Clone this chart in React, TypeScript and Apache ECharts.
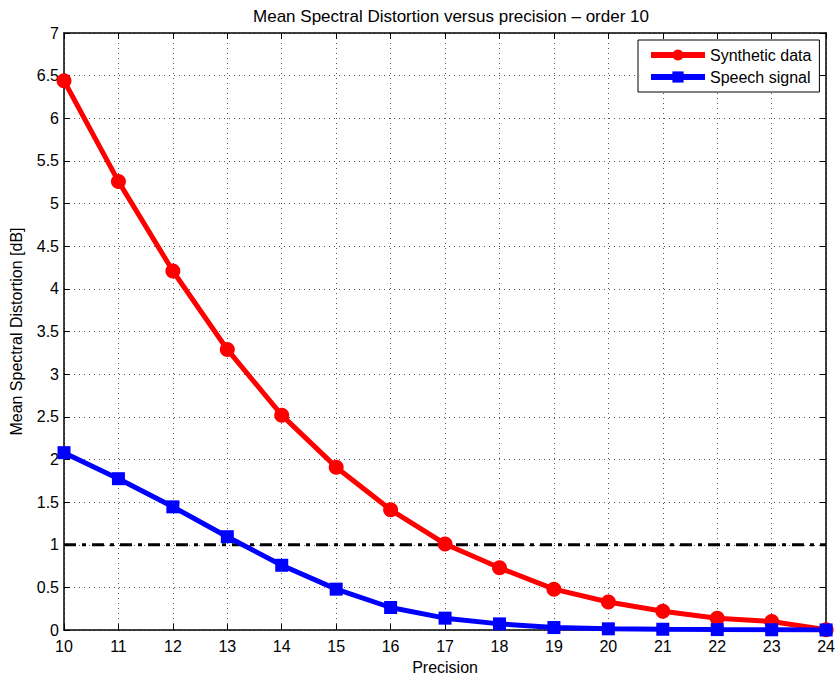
import React, { useEffect, useRef } from "react";
import * as echarts from "echarts";

const precision = [10, 11, 12, 13, 14, 15, 16, 17, 18, 19, 20, 21, 22, 23, 24];
const syntheticData = [6.44, 5.26, 4.21, 3.29, 2.52, 1.91, 1.41, 1.01, 0.73, 0.48, 0.33, 0.22, 0.14, 0.1, 0.005];
const speechSignal = [2.08, 1.775, 1.445, 1.095, 0.76, 0.48, 0.265, 0.14, 0.073, 0.03, 0.015, 0.01, 0.006, 0.004, 0.002];
const thresholdX = [10, 24];
const thresholdY = [1, 1];
const seriesNames = ["Synthetic data", "Speech signal"];
const titleText = "Mean Spectral Distortion versus precision \u2013 order 10";
const xName = "Precision";
const yName = "Mean Spectral Distortion [dB]";

const FONT = "'Liberation Sans', Arial, Helvetica, sans-serif";

export default function App() {
  const ref = useRef<HTMLDivElement>(null);
  useEffect(() => {
    if (!ref.current) return;
    const chart = echarts.init(ref.current, undefined, { renderer: "svg" });
    const gridLine = { show: true, lineStyle: { color: "#555", width: 1, type: [1, 4] as any } };
    const tick = { show: true, inside: true, length: 6, lineStyle: { color: "#000", width: 1 } };
    const axisLine = { show: true, onZero: false, lineStyle: { color: "#000", width: 1.5 } };
    chart.setOption({
      animation: false,
      backgroundColor: "#fff",
      textStyle: { fontFamily: FONT },
      title: {
        text: titleText,
        left: 446,
        textAlign: "center",
        top: 3,
        textStyle: { fontSize: 17, fontWeight: "normal", color: "#000", fontFamily: FONT },
      },
      legend: {
        data: seriesNames,
        orient: "vertical",
        left: 638,
        top: 40,
        padding: [7, 8, 7, 10],
        itemGap: 6,
        itemWidth: 54,
        itemHeight: 14,
        borderColor: "#000",
        borderWidth: 1,
        backgroundColor: "#fff",
        lineStyle: { width: 6 },
        textStyle: { fontSize: 16, color: "#000", fontFamily: FONT },
      },
      grid: { left: 64, right: 10, top: 33, bottom: 47, containLabel: false },
      xAxis: [
        {
          type: "value",
          min: 10,
          max: 24,
          interval: 1,
          name: xName,
          nameLocation: "middle",
          nameGap: 28,
          nameTextStyle: { fontSize: 16, color: "#000", fontFamily: FONT },
          axisLine,
          axisTick: tick,
          axisLabel: { fontSize: 16, color: "#000", margin: 8, fontFamily: FONT },
          splitLine: gridLine,
        },
        {
          type: "value",
          position: "top",
          min: 10,
          max: 24,
          interval: 1,
          axisLine,
          axisTick: tick,
          axisLabel: { show: false },
          splitLine: { show: false },
        },
      ],
      yAxis: [
        {
          type: "value",
          min: 0,
          max: 7,
          interval: 0.5,
          name: yName,
          nameLocation: "middle",
          nameGap: 40,
          nameTextStyle: { fontSize: 16, color: "#000", fontFamily: FONT },
          axisLine,
          axisTick: tick,
          axisLabel: { fontSize: 16, color: "#000", margin: 5, fontFamily: FONT },
          splitLine: gridLine,
        },
        {
          type: "value",
          position: "right",
          min: 0,
          max: 7,
          interval: 0.5,
          axisLine,
          axisTick: tick,
          axisLabel: { show: false },
          splitLine: { show: false },
        },
      ],
      series: [
        {
          name: "threshold",
          type: "line",
          data: thresholdX.map((x, i) => [x, thresholdY[i]]),
          symbol: "none",
          lineStyle: { color: "#000", width: 3, type: [12, 6, 4, 6] as any },
          z: 3,
          silent: true,
        },
        {
          name: seriesNames[1],
          type: "line",
          data: precision.map((x, i) => [x, speechSignal[i]]),
          symbol: "rect",
          symbolSize: 13,
          color: "#0000ff",
          lineStyle: { color: "#0000ff", width: 5 },
          itemStyle: { color: "#0000ff" },
          z: 4,
        },
        {
          name: seriesNames[0],
          type: "line",
          data: precision.map((x, i) => [x, syntheticData[i]]),
          symbol: "circle",
          symbolSize: 15,
          color: "#ff0000",
          lineStyle: { color: "#ff0000", width: 5 },
          itemStyle: { color: "#ff0000" },
          z: 3,
        },
      ],
    });
    return () => chart.dispose();
  }, []);
  return <div ref={ref} style={{ position: "fixed", left: 0, top: 0, width: 838, height: 680 }} />;
}
